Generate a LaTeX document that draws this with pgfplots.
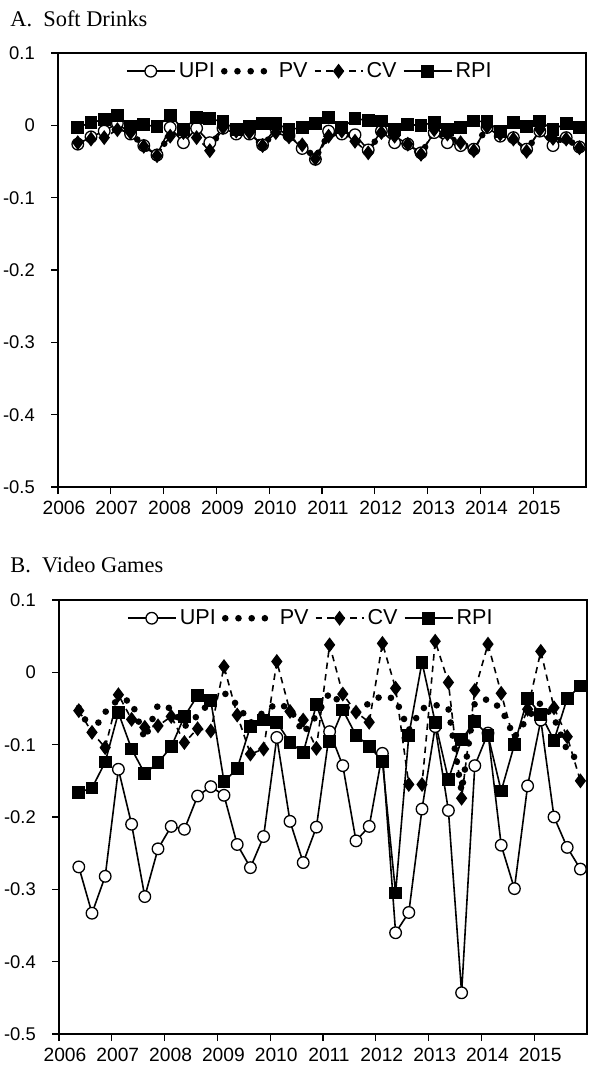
\documentclass[border=0pt]{standalone}
\usepackage{fontspec}
\setmainfont{Liberation Sans}
\newfontfamily\titlefont{Liberation Serif}
\usepackage{pgfplots}
\usepackage{pgfplotstable}
\pgfplotsset{compat=1.18}

\pgfplotstableread{
year upi pv cv rpi
2006.375 -0.026 -0.024 -0.024 -0.003
2006.625 -0.016 -0.018 -0.019 0.004
2006.875 -0.008 -0.014 -0.017 0.008
2007.125 0.003 -0.004 -0.006 0.014
2007.375 -0.012 -0.010 -0.010 -0.002
2007.625 -0.028 -0.029 -0.029 0.001
2007.875 -0.041 -0.042 -0.042 -0.002
2008.125 -0.003 -0.012 -0.015 0.014
2008.375 -0.024 -0.012 -0.010 -0.006
2008.625 -0.004 -0.014 -0.017 0.011
2008.875 -0.024 -0.030 -0.035 0.009
2009.125 -0.004 -0.004 -0.003 0.005
2009.375 -0.012 -0.009 -0.008 -0.006
2009.625 -0.012 -0.010 -0.010 -0.002
2009.875 -0.027 -0.028 -0.028 0.003
2010.125 -0.004 -0.008 -0.010 0.003
2010.375 -0.014 -0.014 -0.016 -0.006
2010.625 -0.032 -0.028 -0.027 -0.003
2010.875 -0.047 -0.045 -0.046 0.003
2011.125 -0.008 -0.012 -0.015 0.011
2011.375 -0.012 -0.010 -0.008 -0.003
2011.625 -0.013 -0.018 -0.022 0.009
2011.875 -0.034 -0.036 -0.038 0.007
2012.125 -0.008 -0.009 -0.010 0.006
2012.375 -0.024 -0.018 -0.015 -0.006
2012.625 -0.026 -0.026 -0.026 0.001
2012.875 -0.038 -0.040 -0.040 0.000
2013.125 -0.010 -0.008 -0.006 0.004
2013.375 -0.024 -0.016 -0.012 -0.006
2013.625 -0.028 -0.025 -0.024 -0.003
2013.875 -0.033 -0.034 -0.035 0.006
2014.125 -0.003 -0.002 -0.002 0.005
2014.375 -0.015 -0.013 -0.012 -0.008
2014.625 -0.017 -0.018 -0.019 0.004
2014.875 -0.033 -0.035 -0.036 -0.002
2015.125 -0.008 -0.007 -0.006 0.006
2015.375 -0.028 -0.022 -0.018 -0.006
2015.625 -0.017 -0.018 -0.019 0.003
2015.875 -0.030 -0.031 -0.031 -0.003
}\tableA

\pgfplotstableread{
year upi pv cv rpi
2006.375 -0.269 -0.049 -0.053 -0.166
2006.625 -0.333 -0.083 -0.083 -0.160
2006.875 -0.282 -0.055 -0.104 -0.124
2007.125 -0.134 -0.037 -0.031 -0.056
2007.375 -0.210 -0.040 -0.065 -0.106
2007.625 -0.310 -0.092 -0.076 -0.140
2007.875 -0.244 -0.045 -0.074 -0.125
2008.125 -0.213 -0.050 -0.061 -0.103
2008.375 -0.217 -0.075 -0.097 -0.061
2008.625 -0.171 -0.060 -0.078 -0.032
2008.875 -0.158 -0.040 -0.081 -0.039
2009.125 -0.170 -0.028 0.008 -0.151
2009.375 -0.238 -0.045 -0.059 -0.133
2009.625 -0.270 -0.070 -0.113 -0.075
2009.875 -0.227 -0.055 -0.106 -0.066
2010.125 -0.090 -0.043 0.015 -0.069
2010.375 -0.206 -0.050 -0.054 -0.097
2010.625 -0.263 -0.084 -0.066 -0.111
2010.875 -0.214 -0.060 -0.105 -0.045
2011.125 -0.082 -0.028 0.038 -0.096
2011.375 -0.129 -0.045 -0.030 -0.052
2011.625 -0.233 -0.058 -0.055 -0.087
2011.875 -0.213 -0.042 -0.069 -0.102
2012.125 -0.112 -0.032 0.040 -0.123
2012.375 -0.360 -0.037 -0.022 -0.305
2012.625 -0.332 -0.080 -0.155 -0.087
2012.875 -0.189 -0.050 -0.155 0.014
2013.125 -0.075 -0.045 0.043 -0.069
2013.375 -0.191 -0.050 -0.014 -0.148
2013.625 -0.443 -0.165 -0.174 -0.093
2013.875 -0.129 -0.042 -0.025 -0.068
2014.125 -0.084 -0.037 0.039 -0.087
2014.375 -0.239 -0.050 -0.029 -0.164
2014.625 -0.299 -0.090 -0.097 -0.100
2014.875 -0.157 -0.063 -0.051 -0.036
2015.125 -0.066 -0.042 0.029 -0.058
2015.375 -0.200 -0.063 -0.049 -0.094
2015.625 -0.242 -0.108 -0.089 -0.036
2015.875 -0.272 -0.125 -0.150 -0.019
}\tableB

\pgfplotsset{
  panel/.style={
    width=264pt, height=217pt, scale only axis,
    anchor=south west,
    xmin=2006, xmax=2016, ymin=-0.5, ymax=0.1,
    xtick={2006,2007,2008,2009,2010,2011,2012,2013,2014,2015},
    xticklabels={2006,2007,2008,2009,2010,2011,2012,2013,2014,2015},
    ytick={-0.5,-0.4,-0.3,-0.2,-0.1,0,0.1},
    yticklabels={-0.5,-0.4,-0.3,-0.2,-0.1,0,0.1},
    tick align=outside, tick pos=left,
    major tick length=3.5pt,
    every tick/.style={black, line width=0.6pt},
    axis line style={black, line width=0.6pt},
    xticklabel style={font=\fontsize{9.6}{11}\selectfont, xshift=3pt},
    yticklabel style={font=\fontsize{9.2}{11}\selectfont, xshift=-4.6pt},
    legend columns=4,
    legend cell align=left,
    legend image code/.code={\draw[mark repeat=2,mark phase=2,##1] plot coordinates {(0pt,0pt)(12pt,0pt)(24pt,0pt)};},
    legend style={at={(0.478,0.958)}, anchor=center, draw=none, fill=none,
      font=\fontsize{10.8}{12}\selectfont, inner sep=0pt,
      /tikz/every even column/.append style={column sep=1.5pt},
      nodes={inner sep=1.6pt}},
  },
  upi/.style={black, line width=0.8pt, mark=*, mark size=2.9pt,
    mark options={fill=white, solid, line width=0.65pt}},
  pv/.style={black, line width=3.3pt, line cap=round, dash pattern=on 0pt off 6.6pt},
  cv/.style={black, line width=0.8pt, dash pattern=on 3.2pt off 2.6pt,
    mark=diamond*, mark size=3.1pt, mark options={solid, fill=black}},
  rpi/.style={black, line width=0.8pt, mark=square*, mark size=2.8pt,
    mark options={solid, fill=black}},
}

\begin{document}
\begin{tikzpicture}
\useasboundingbox (0,0) rectangle (294.5pt,-534.5pt);
\node[anchor=west, font=\titlefont\fontsize{11.2}{13}\selectfont, inner sep=0pt] at (5pt,-9.5pt) {A.\ \ Soft Drinks};
\node[anchor=west, font=\titlefont\fontsize{11.2}{13}\selectfont, inner sep=0pt] at (5pt,-282.5pt) {B.\ \ Video Games};

\begin{axis}[panel, at={(29pt,-243.5pt)}]
\addplot[upi] table[x=year,y=upi] {\tableA};
\addlegendentry{UPI}
\addplot[pv] table[x=year,y=pv] {\tableA};
\addlegendentry{PV}
\addplot[cv] table[x=year,y=cv] {\tableA};
\addlegendentry{CV}
\addplot[rpi] table[x=year,y=rpi] {\tableA};
\addlegendentry{RPI}
\end{axis}

\begin{axis}[panel, at={(29.5pt,-517pt)}]
\addplot[upi] table[x=year,y=upi] {\tableB};
\addlegendentry{UPI}
\addplot[pv] table[x=year,y=pv] {\tableB};
\addlegendentry{PV}
\addplot[cv] table[x=year,y=cv] {\tableB};
\addlegendentry{CV}
\addplot[rpi] table[x=year,y=rpi] {\tableB};
\addlegendentry{RPI}
\end{axis}
\end{tikzpicture}
\end{document}
